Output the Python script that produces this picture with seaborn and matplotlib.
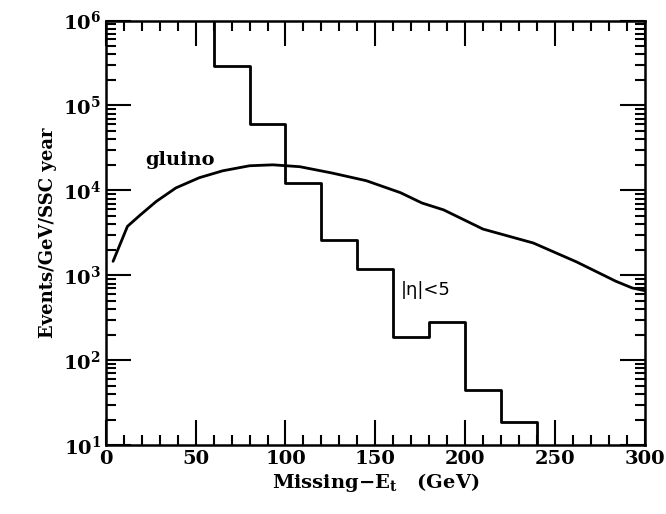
import numpy as np
import pandas as pd
import matplotlib
matplotlib.use("Agg")
import matplotlib.pyplot as plt
import seaborn as sns
from matplotlib.ticker import FixedLocator, FixedFormatter, MultipleLocator, LogLocator, NullFormatter

# gluino signal curve
gluino_x = [4, 12, 19, 28, 39, 52, 65, 80, 93, 108, 126, 145, 164, 176, 188, 210, 238, 262, 284, 293, 300]
gluino_y = [1460, 3770, 5100, 7400, 10700, 14100, 17000, 19500, 20000, 19000, 16000, 13000,
            9400, 7100, 5900, 3500, 2400, 1440, 850, 710, 660]

# background histogram, |eta| < 5, 20 GeV bins
bin_left = [60, 80, 100, 120, 140, 160, 180, 200, 220]
bin_width = 20
bkg_counts = [2.9e5, 6.1e4, 1.23e4, 2.57e3, 1.2e3, 186, 281, 44, 18.6]

x_range = (0, 300)
y_range = (10, 1e6)
y_decades = [1, 2, 3, 4, 5, 6]

sns.set_theme(style="ticks")
plt.rcParams['font.family'] = ['DejaVu Serif']
plt.rcParams['font.weight'] = 'bold'
plt.rcParams['mathtext.fontset'] = 'dejavuserif'
for key in ['text.color', 'axes.labelcolor', 'xtick.color', 'ytick.color', 'axes.edgecolor']:
    plt.rcParams[key] = 'black'

fig = plt.figure(figsize=(6.66, 5.14), dpi=100)
ax = fig.add_axes([0.159, 0.134, 0.809, 0.826])

gluino = pd.DataFrame({'x': gluino_x, 'y': gluino_y})
sns.lineplot(data=gluino, x='x', y='y', ax=ax, color='black', lw=2.0,
             estimator=None, sort=False)

# step outline: rises from the top frame at the first edge, drops to the floor after the last bin
step_x = [bin_left[0]] + bin_left + [bin_left[-1] + bin_width]
step_y = [y_range[1]] + bkg_counts + [y_range[0]]
hist = pd.DataFrame({'x': step_x, 'y': step_y})
sns.lineplot(data=hist, x='x', y='y', ax=ax, color='black', lw=2.0,
             estimator=None, sort=False, drawstyle='steps-post')

ax.set_yscale('log')
ax.set_xlim(*x_range)
ax.set_ylim(*y_range)

ax.xaxis.set_major_locator(MultipleLocator(50))
ax.xaxis.set_minor_locator(MultipleLocator(10))
ax.yaxis.set_major_locator(FixedLocator([10.0 ** d for d in y_decades]))
ax.yaxis.set_major_formatter(FixedFormatter([r'$\mathbf{10^{%d}}$' % d for d in y_decades]))
ax.yaxis.set_minor_locator(LogLocator(base=10, subs=np.arange(2, 10)))
ax.yaxis.set_minor_formatter(NullFormatter())

ax.tick_params(which='both', direction='in', top=True, right=True, width=1.5, labelsize=14,
               colors='black')
ax.tick_params(which='major', length=18)
ax.tick_params(which='minor', length=7)
for sp in ax.spines.values():
    sp.set_linewidth(1.8)
    sp.set_color('black')
for lab in ax.get_xticklabels():
    lab.set_fontweight('bold')

ax.set_xlabel(r'Missing$-$E$_{\mathbf{t}}$   (GeV)', fontsize=14, fontweight='bold', labelpad=2)
ax.set_ylabel('Events/GeV/SSC year', fontsize=13, fontweight='bold', labelpad=4)

ax.text(22, 2.3e4, 'gluino', fontsize=14, fontweight='bold', va='center', ha='left')
ax.text(164, 680, '|η|<5', fontsize=13, fontweight='normal', va='center', ha='left',
        family=['DejaVu Sans'])

fig.savefig('out.png', dpi=100)
